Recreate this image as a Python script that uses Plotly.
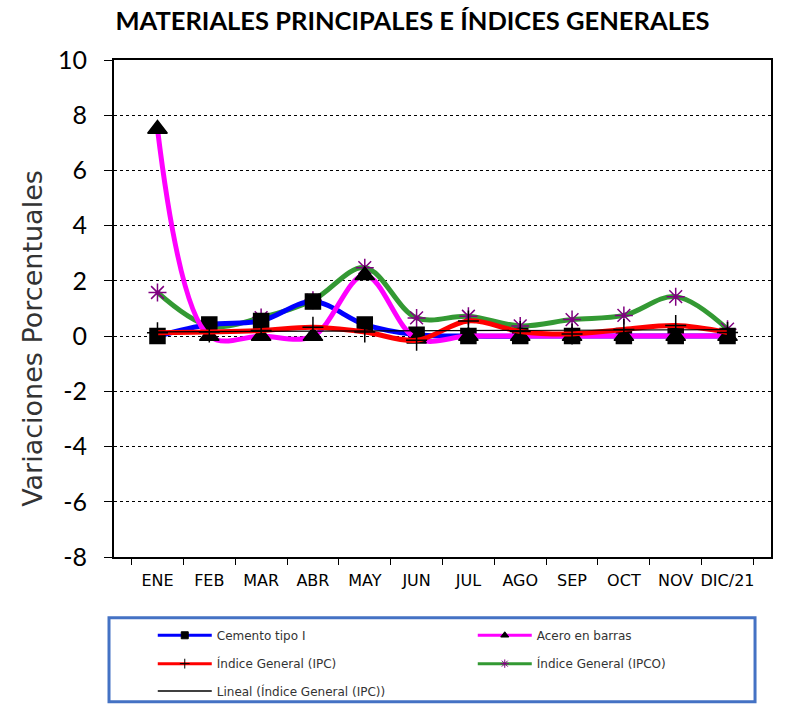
import numpy as np
import plotly.graph_objects as go

months = ["ENE", "FEB", "MAR", "ABR", "MAY", "JUN", "JUL", "AGO", "SEP", "OCT", "NOV", "DIC/21"]
cemento = [0.0, 0.42, 0.55, 1.25, 0.42, 0.05, 0.0, 0.0, 0.0, 0.0, 0.0, 0.0]
acero = [7.5, 0.0, 0.0, 0.0, 2.2, -0.1, 0.0, 0.0, 0.0, 0.0, 0.0, 0.0]
ipc = [0.12, 0.15, 0.2, 0.32, 0.15, -0.15, 0.55, 0.17, 0.08, 0.24, 0.38, 0.13]
ipco = [1.58, 0.37, 0.67, 1.3, 2.48, 0.66, 0.72, 0.37, 0.6, 0.75, 1.43, 0.25]
y_ticks = [-8, -6, -4, -2, 0, 2, 4, 6, 8, 10]
y_tick_labels = ["-8", "-6", "-4", "-2", "0", "2", "4", "6", "8", "10"]

# linear trend of IPC
xi = np.arange(len(ipc))
slope, intercept = np.polyfit(xi, ipc, 1)
trend = list(slope * xi + intercept)

FONT = "Lato"
WIDE = "DejaVu Sans"
fig = go.Figure()

series = [
    # name, values, line color, marker symbol, marker size, marker color, legend id
    ("Índice General (IPCO)", ipco, "#339933", "asterisk-open", 15, "#800080", "legend4"),
    ("Cemento tipo I", cemento, "#0000FF", "square", 15, "black", "legend"),
    ("Acero en barras", acero, "#FF00FF", "triangle-up", 17, "black", "legend2"),
    ("Índice General (IPC)", ipc, "#FF0000", "cross-thin-open", 15, "black", "legend3"),
]
for name, vals, lc, sym, ms, mc, lg in series:
    fig.add_trace(go.Scatter(x=months, y=vals, name=name, mode="lines+markers", showlegend=False,
                             line=dict(color=lc, width=5, shape="spline", smoothing=1.0),
                             marker=dict(symbol=sym, size=ms, color=mc,
                                         line=dict(color=mc, width=1.5))))
fig.add_trace(go.Scatter(x=months, y=trend, name="Lineal (Índice General (IPC))", mode="lines",
                         showlegend=False, line=dict(color="black", width=1.2)))

# legend-only entries (small markers like the original)
for name, vals, lc, sym, ms, mc, lg in series:
    fig.add_trace(go.Scatter(x=[months[0]], y=[None], name=name, mode="lines+markers",
                             legend=lg,
                             line=dict(color=lc, width=3),
                             marker=dict(symbol=sym, size=7, color=mc, line=dict(color=mc, width=1))))
fig.add_trace(go.Scatter(x=[months[0]], y=[None], name="Lineal (Índice General (IPC))",
                         mode="lines", legend="legend5", line=dict(color="black", width=1.5)))

# plot area in page px: left 114, right 771, top 60, bottom 568
def py(page_y):
    return (568 - page_y) / 508

XL = 0.059
XR = 0.059 + (478 - 158) / 657
leg_common = dict(orientation="h", xanchor="left", yanchor="middle",
                  font=dict(size=12, family=WIDE, color="#333333"),
                  bgcolor="rgba(0,0,0,0)", itemwidth=54)
fig.update_layout(
    width=785, height=717,
    margin=dict(l=114, r=14, t=60, b=149),
    paper_bgcolor="white", plot_bgcolor="white",
    font=dict(family=FONT, color="black"),
    title=dict(text="<b>MATERIALES PRINCIPALES E ÍNDICES GENERALES</b>",
               x=0.5255, xanchor="center", y=1 - 21 / 717, yanchor="middle",
               font=dict(size=25.5, family=FONT, color="black")),
    showlegend=True,
    legend=dict(x=XL, y=py(648), **leg_common),
    legend2=dict(x=XR, y=py(648), **leg_common),
    legend3=dict(x=XL, y=py(677), **leg_common),
    legend4=dict(x=XR, y=py(677), **leg_common),
    legend5=dict(x=XL, y=py(705), **leg_common),
    shapes=[dict(type="rect", xref="paper", yref="paper",
                 x0=-0.0076, x1=0.9757, y0=-0.2913, y1=-0.122,
                 line=dict(color="#4472C4", width=3))],
    annotations=[dict(text="Variaciones Porcentuales", textangle=-90, showarrow=False,
                      xref="paper", yref="paper", x=0, y=py(345), xanchor="center",
                      yanchor="middle", xshift=33 - 114,
                      font=dict(size=27, family=WIDE, color="#333333"))],
)

fig.update_xaxes(type="category", tickson="boundaries", ticks="outside", ticklen=6,
                 tickangle=0, automargin=False, ticklabelstandoff=8,
                 tickcolor="black", showline=True, linecolor="black", linewidth=2, mirror=True,
                 showgrid=False, tickfont=dict(size=16, family=WIDE, color="black"))
fig.update_yaxes(range=[-8, 10], tickvals=y_ticks, ticktext=y_tick_labels, ticks="outside",
                 ticklen=8, tickcolor="black", automargin=False, ticklabelstandoff=12,
                 showline=True, linecolor="black", linewidth=2, mirror=True,
                 showgrid=True, gridcolor="black", griddash="dot", gridwidth=1,
                 zeroline=False,
                 tickfont=dict(size=25, family=FONT, color="black"))

fig.write_html("out.html", config={"displayModeBar": False},
               post_script="document.body.style.margin='0px'; document.body.style.overflow='hidden';")
